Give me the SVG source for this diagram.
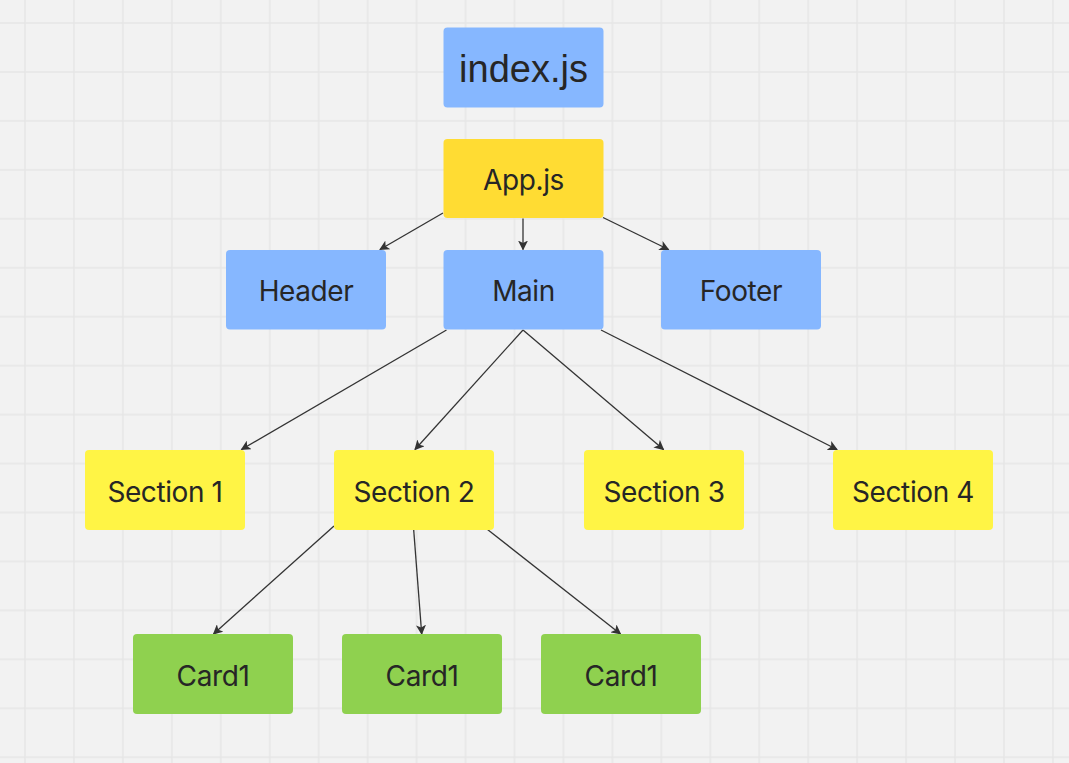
<svg xmlns="http://www.w3.org/2000/svg" width="1069" height="763" viewBox="0 0 1069 763">
<style>
.lbl{font-family:"Inter","Open Sans",sans-serif;font-size:28px;letter-spacing:-0.4px;fill:#262626;text-anchor:middle}
.big{font-family:"Liberation Sans","Arial",sans-serif;font-size:38px;fill:#262626;text-anchor:middle}
.blue{fill:#86B7FF}
.gold{fill:#FFDC33}
.yel{fill:#FFF445}
.grn{fill:#8FD14F}
.edge{stroke:#333;stroke-width:1.3;fill:none;marker-end:url(#ah)}
</style>
<defs>
<pattern id="grid" patternUnits="userSpaceOnUse" x="24" y="22" width="48.95" height="48.95">
<path d="M1 0V48.95M0 1H48.95" stroke="#e6e6e6" stroke-width="1.4" fill="none"/>
</pattern>
<marker id="ah" viewBox="0 0 10 10" refX="9" refY="5" markerWidth="10" markerHeight="10" markerUnits="userSpaceOnUse" orient="auto">
<path d="M0 0L10 5L0 10L2.5 5Z" fill="#333"/>
</marker>
</defs>
<rect width="1069" height="763" fill="#f2f2f2"/>
<rect width="1069" height="763" fill="url(#grid)"/>
<g id="connectors">
<path class="edge" d="M443 213L380 249.5"/>
<path class="edge" d="M523 218.5V249.5"/>
<path class="edge" d="M603 217.5L668.5 249.5"/>
<path class="edge" d="M446.5 330L241.5 449.5"/>
<path class="edge" d="M523 330L415 449.5"/>
<path class="edge" d="M523 330L663.5 449.5"/>
<path class="edge" d="M601 330L837 449.5"/>
<path class="edge" d="M334 526L213.5 634"/>
<path class="edge" d="M413.7 530L421.7 634"/>
<path class="edge" d="M487.5 529.5L620.5 634"/>
</g>
<g id="index"><rect class="blue" x="443.5" y="27.5" width="160" height="80" rx="4"/><text class="big" x="523.5" y="82">index.js</text></g>
<g id="app"><rect class="gold" x="443.5" y="139" width="160" height="79" rx="4"/><text class="lbl" x="523.5" y="190">App.js</text></g>
<g id="header"><rect class="blue" x="226" y="250" width="160" height="79.5" rx="4"/><text class="lbl" x="306" y="301">Header</text></g>
<g id="main"><rect class="blue" x="443.5" y="250" width="160" height="79.5" rx="4"/><text class="lbl" x="523.5" y="301">Main</text></g>
<g id="footer"><rect class="blue" x="661" y="250" width="160" height="79.5" rx="4"/><text class="lbl" x="741" y="301">Footer</text></g>
<g id="section1"><rect class="yel" x="85" y="450" width="160" height="80" rx="4"/><text class="lbl" x="165" y="501.5">Section 1</text></g>
<g id="section2"><rect class="yel" x="334" y="450" width="160" height="80" rx="4"/><text class="lbl" x="414" y="501.5">Section 2</text></g>
<g id="section3"><rect class="yel" x="584" y="450" width="160" height="80" rx="4"/><text class="lbl" x="664" y="501.5">Section 3</text></g>
<g id="section4"><rect class="yel" x="833" y="450" width="160" height="80" rx="4"/><text class="lbl" x="913" y="501.5">Section 4</text></g>
<g id="card1a"><rect class="grn" x="133" y="634" width="160" height="80" rx="4"/><text class="lbl" x="213" y="685.5">Card1</text></g>
<g id="card1b"><rect class="grn" x="342" y="634" width="160" height="80" rx="4"/><text class="lbl" x="422" y="685.5">Card1</text></g>
<g id="card1c"><rect class="grn" x="541" y="634" width="160" height="80" rx="4"/><text class="lbl" x="621" y="685.5">Card1</text></g>
</svg>
